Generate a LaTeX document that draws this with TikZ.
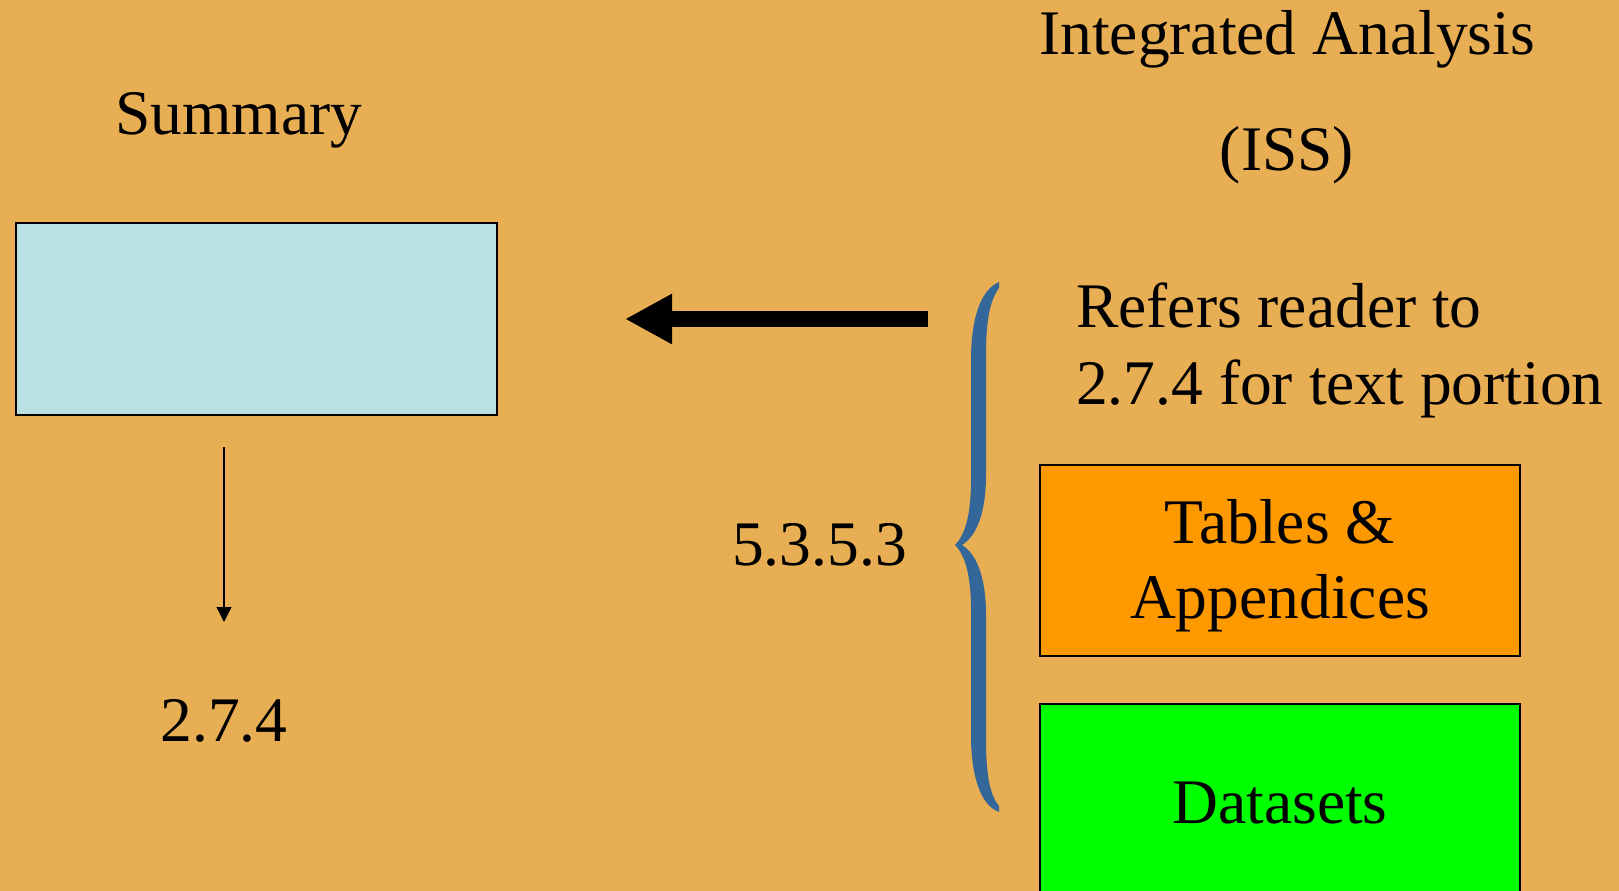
\documentclass[tikz,border=0pt]{standalone}
\usepackage{fontspec}
\setmainfont{Liberation Serif}
\usetikzlibrary{arrows.meta}
\definecolor{bgtan}{RGB}{232,174,83}
\definecolor{boxblue}{RGB}{187,224,227}
\definecolor{boxorange}{RGB}{255,153,0}
\definecolor{boxgreen}{RGB}{0,255,0}
\definecolor{braceblue}{RGB}{51,102,153}
\tikzset{>=stealth}
\tikzset{box/.style={draw=black, line width=1.5pt, inner sep=0pt},
         lbl/.style={inner sep=0pt, anchor=base}}

\begin{document}
\begin{tikzpicture}[x=1pt, y=-1pt, font=\fontsize{63.5}{77}\selectfont]
    \useasboundingbox (0,0) rectangle (1619,891);
    \clip (0,0) rectangle (1619,891);
    \fill [bgtan] (0,0) rectangle (1619,891);
    % left column
    \node [lbl] (summ) at (239,134) {Summary};
    \node [box, fill=boxblue, minimum width=481pt, minimum height=192pt] (sumbox) at (256.5,319) {};
    \coordinate (A) at (224,447);
    \coordinate (B) at (224,622);
    \draw [-{Triangle[length=15pt,width=15pt]}, line width=1.3pt] (A) -- (B);
    \node [lbl] (sec) at (224,741) {2.7.4};
    % right column
    \node [anchor=north, align=center, inner sep=0pt, font=\fontsize{63.5}{116}\selectfont] (iss) at (1287,10.6) {Integrated Analysis\\(ISS)};
    \coordinate (C) at (928,319);
    \coordinate (D) at (625,319);
    \draw [-{Triangle[length=47pt,width=47pt]}, line width=16pt] (C) -- (D);
    \fill [braceblue] (999,282) .. controls (980,290) and (971,320) .. (971,360) -- (971,480)
        .. controls (971,515) and (965,535) .. (955,545)
        .. controls (965,555) and (971,575) .. (971,610) -- (971,735)
        .. controls (971,775) and (980,805) .. (999,812)
        -- (999,806) .. controls (990,795) and (986,775) .. (986,740) -- (986,615)
        .. controls (986,580) and (978,555) .. (962,545)
        .. controls (978,535) and (986,510) .. (986,475) -- (986,355)
        .. controls (986,320) and (990,300) .. (999,288) -- cycle;
    \node [lbl] (ref) at (819.5,565) {5.3.5.3};
    \node [anchor=north west, align=left, inner sep=0pt] (refer) at (1076,282.6) {Refers reader to\\2.7.4 for text portion};
    \node [box, fill=boxorange, minimum width=480pt, align=center, anchor=north, font=\fontsize{63.5}{75}\selectfont] (tab) at (1280,464)
        {\rule{0pt}{79pt}Tables \&\\Appendices\rule[-37pt]{0pt}{37pt}};
    \node [box, fill=boxgreen, minimum width=480pt, text height=120pt, text depth=110pt, anchor=north] (data) at (1280,703) {Datasets};
\end{tikzpicture}
\end{document}
